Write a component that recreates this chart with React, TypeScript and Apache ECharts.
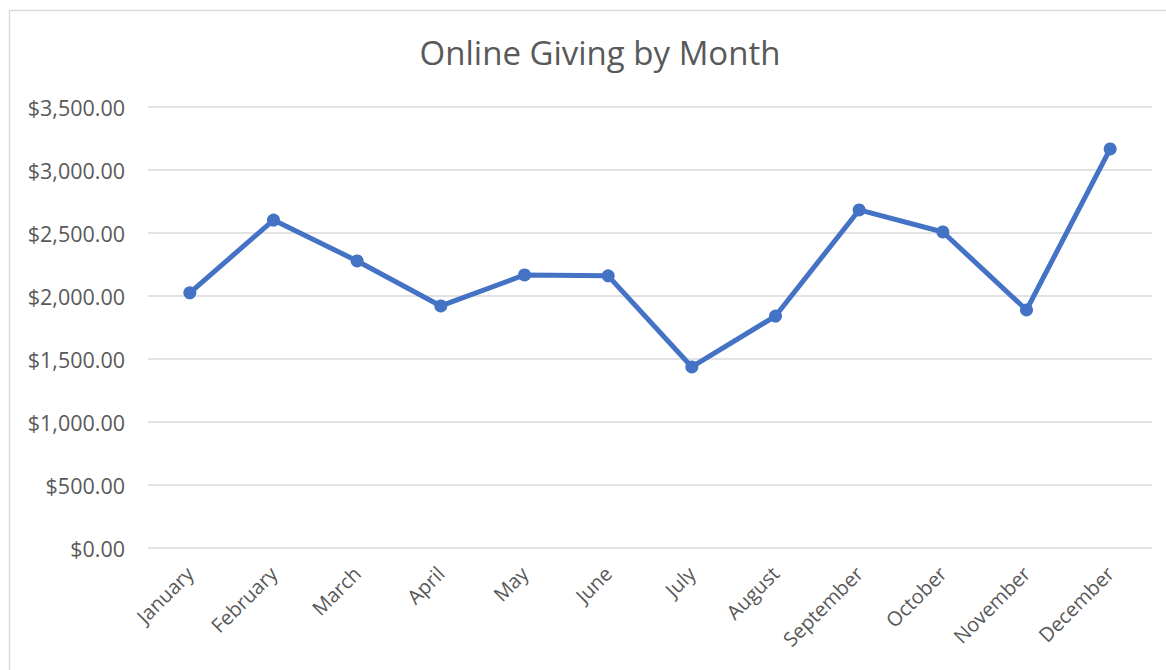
import React, { useEffect, useRef } from "react";
import * as echarts from "echarts";

const months = ["January", "February", "March", "April", "May", "June", "July", "August", "September", "October", "November", "December"];
const giving = [2025, 2603, 2278, 1921, 2167, 2160, 1437, 1841, 2683, 2508, 1889, 3167];
const yTicks = { min: 0, max: 3500, interval: 500 };

export default function App() {
  const ref = useRef<HTMLDivElement>(null);
  useEffect(() => {
    if (!ref.current) return;
    const chart = echarts.init(ref.current, null, { renderer: "svg" });
    const font = "'Open Sans', sans-serif";
    chart.setOption({
      animation: false,
      backgroundColor: "#ffffff",
      title: {
        text: "Online Giving by Month",
        left: 595,
        textAlign: "center",
        top: 31,
        textStyle: { fontFamily: font, fontSize: 33, fontWeight: "normal", color: "#595959" },
      },
      graphic: [
        {
          type: "rect",
          shape: { x: 9.5, y: 10.5, width: 1200, height: 700 },
          style: { fill: "none", stroke: "#d9d9d9", lineWidth: 1.5 },
          silent: true,
        },
      ],
      grid: { left: 148, right: 14, top: 107, bottom: 122, containLabel: false },
      xAxis: {
        type: "category",
        data: months,
        boundaryGap: true,
        axisLine: { show: false },
        axisTick: { show: false },
        axisLabel: { rotate: 45, margin: 22, color: "#595959", fontFamily: font, fontSize: 20, interval: 0 },
      },
      yAxis: {
        type: "value",
        min: yTicks.min,
        max: yTicks.max,
        interval: yTicks.interval,
        axisLine: { show: false },
        axisTick: { show: false },
        splitLine: { lineStyle: { color: "#d9d9d9", width: 1.5 } },
        axisLabel: {
          margin: 23,
          color: "#595959",
          fontFamily: font,
          fontSize: 21.5,
          formatter: (v: number) => "$" + v.toLocaleString("en-US", { minimumFractionDigits: 2, maximumFractionDigits: 2 }),
        },
      },
      series: [
        {
          type: "line",
          data: giving,
          symbol: "circle",
          symbolSize: 13,
          lineStyle: { color: "#4472c4", width: 5 },
          itemStyle: { color: "#4472c4" },
        },
      ],
    });
    return () => chart.dispose();
  }, []);
  return <div ref={ref} style={{ position: "fixed", left: 0, top: 0, width: 1166, height: 670 }} />;
}
